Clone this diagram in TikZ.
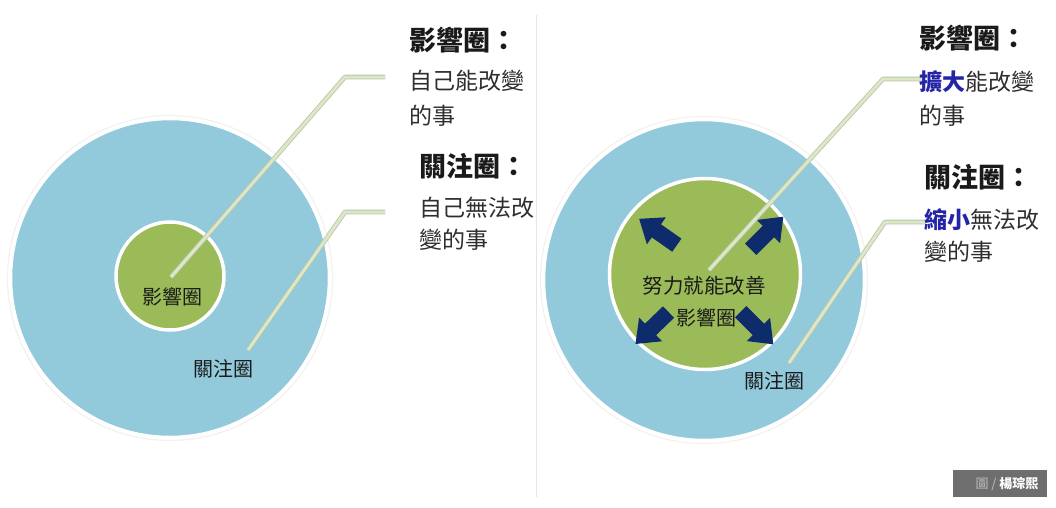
\documentclass[tikz,border=0pt]{standalone}
\usepackage{fontspec}
\setmainfont{Noto Sans CJK TC}
\usetikzlibrary{calc}
\definecolor{outerblue}{HTML}{92CADB}
\definecolor{innergreen}{HTML}{9BBB59}
\definecolor{navy}{HTML}{0E2C6C}
\definecolor{leaderfill}{HTML}{DCE7C8}
\definecolor{leaderedge}{HTML}{B9C4A8}
\definecolor{hlblue}{HTML}{2424A6}
\definecolor{txt}{HTML}{1A1A1A}
\definecolor{bodytxt}{HTML}{2E2E2E}
\definecolor{creditgray}{HTML}{6E6E6E}
\definecolor{sepgray}{HTML}{E6E6E6}
\newcommand{\fsz}[1]{\fontsize{#1pt}{#1pt}\selectfont}
\tikzset{
  ring/.style={circle, inner sep=0pt, draw=white, line width=3.5pt},
  halo/.style={circle, inner sep=0pt, draw=black!5, line width=1.2pt},
  leader/.style={draw=leaderfill, line width=3pt, line join=round,
    preaction={draw=leaderedge, line width=4.6pt, line join=round}},
  title/.style={anchor=west, inner sep=0pt, text=txt, font=\fsz{27}\bfseries},
  body/.style={anchor=west, inner sep=0pt, text=bodytxt, font=\fsz{23}},
  clabel/.style={inner sep=0pt, text=txt, font=\fsz{20}},
  bigarrow/.pic={\fill[navy] (-23,-8) -- (2,-8) -- (2,-16.5) -- (23,0) -- (2,16.5) -- (2,8) -- (-23,8) -- cycle;}
}
\begin{document}
\begin{tikzpicture}[x=1pt,y=-1pt]
\fill[white] (0,0) rectangle (1056,507);
\useasboundingbox (0,0) rectangle (1056,507);

% separator
\draw[sepgray, line width=1pt] (536,15) -- (536,497);

% ---------------- left diagram ----------------
\node[halo, minimum size=325pt] (Lhalo) at (170,278) {};
\node[ring, fill=outerblue, minimum size=319pt] (Lout) at (170,278) {};
\node[ring, fill=innergreen, minimum size=108pt] (Lin) at (170,276) {};
\node[clabel] (Linlab) at (172,297) {影響圈};
\node[clabel] (Loutlab) at (223,369) {關注圈};

\coordinate (L1s) at (171,277);
\coordinate (L1c) at (345,77);
\coordinate (L1e) at (385,77);
\coordinate (L2s) at (248,350);
\coordinate (L2c) at (345,212);
\coordinate (L2e) at (385,212);
\draw[leader] (L1s) -- (L1c) -- (L1e);
\draw[leader] (L2s) -- (L2c) -- (L2e);

\node[title] (Lt1) at (409,40) {影響圈：};
\node[body] (Lb1a) at (409,81) {自己能改變};
\node[body] (Lb1b) at (409,116) {的事};
\node[title] (Lt2) at (419,166) {關注圈：};
\node[body] (Lb2a) at (419,208) {自己無法改};
\node[body] (Lb2b) at (419,240) {變的事};

% ---------------- right diagram ----------------
\node[halo, minimum size=327pt] (Rhalo) at (704,280) {};
\node[ring, fill=outerblue, minimum size=321pt] (Rout) at (704,280) {};
\node[ring, fill=innergreen, minimum size=191pt] (Rin) at (705,274) {};

\pic[rotate=145] at (658,232) {bigarrow};
\pic[rotate=45] at (767,233) {bigarrow};
\pic[rotate=224] at (652,328) {bigarrow};
\pic[rotate=-45] at (757,328) {bigarrow};

\node[clabel, font=\fsz{20.5}] (Rtext) at (704,286) {努力就能改善};
\node[clabel] (Rinlab) at (706,318) {影響圈};
\node[clabel] (Routlab) at (774,381) {關注圈};

\coordinate (R1s) at (709,270);
\coordinate (R1c) at (883,79);
\coordinate (R1e) at (922,79);
\coordinate (R2s) at (789,363);
\coordinate (R2c) at (885,222);
\coordinate (R2e) at (925,222);
\draw[leader] (R1s) -- (R1c) -- (R1e);
\draw[leader] (R2s) -- (R2c) -- (R2e);

\node[title] (Rt1) at (919,38) {影響圈：};
\node[body] (Rb1a) at (919,82) {\textcolor{hlblue}{\bfseries 擴大}能改變};
\node[body] (Rb1b) at (919,116) {的事};
\node[title] (Rt2) at (924,177) {關注圈：};
\node[body] (Rb2a) at (924,220) {\textcolor{hlblue}{\bfseries 縮小}無法改};
\node[body] (Rb2b) at (924,252) {變的事};

% credit
\node[fill=creditgray, inner sep=0pt, minimum width=94pt, minimum height=27pt, anchor=north west] (credit) at (953,470) {};
\node[inner sep=0pt, font=\fsz{13}] (credittxt) at (1007,484) {\textcolor{black!25}{圖 /} \textcolor{white}{\bfseries 楊琮熙}};
\end{tikzpicture}
\end{document}
